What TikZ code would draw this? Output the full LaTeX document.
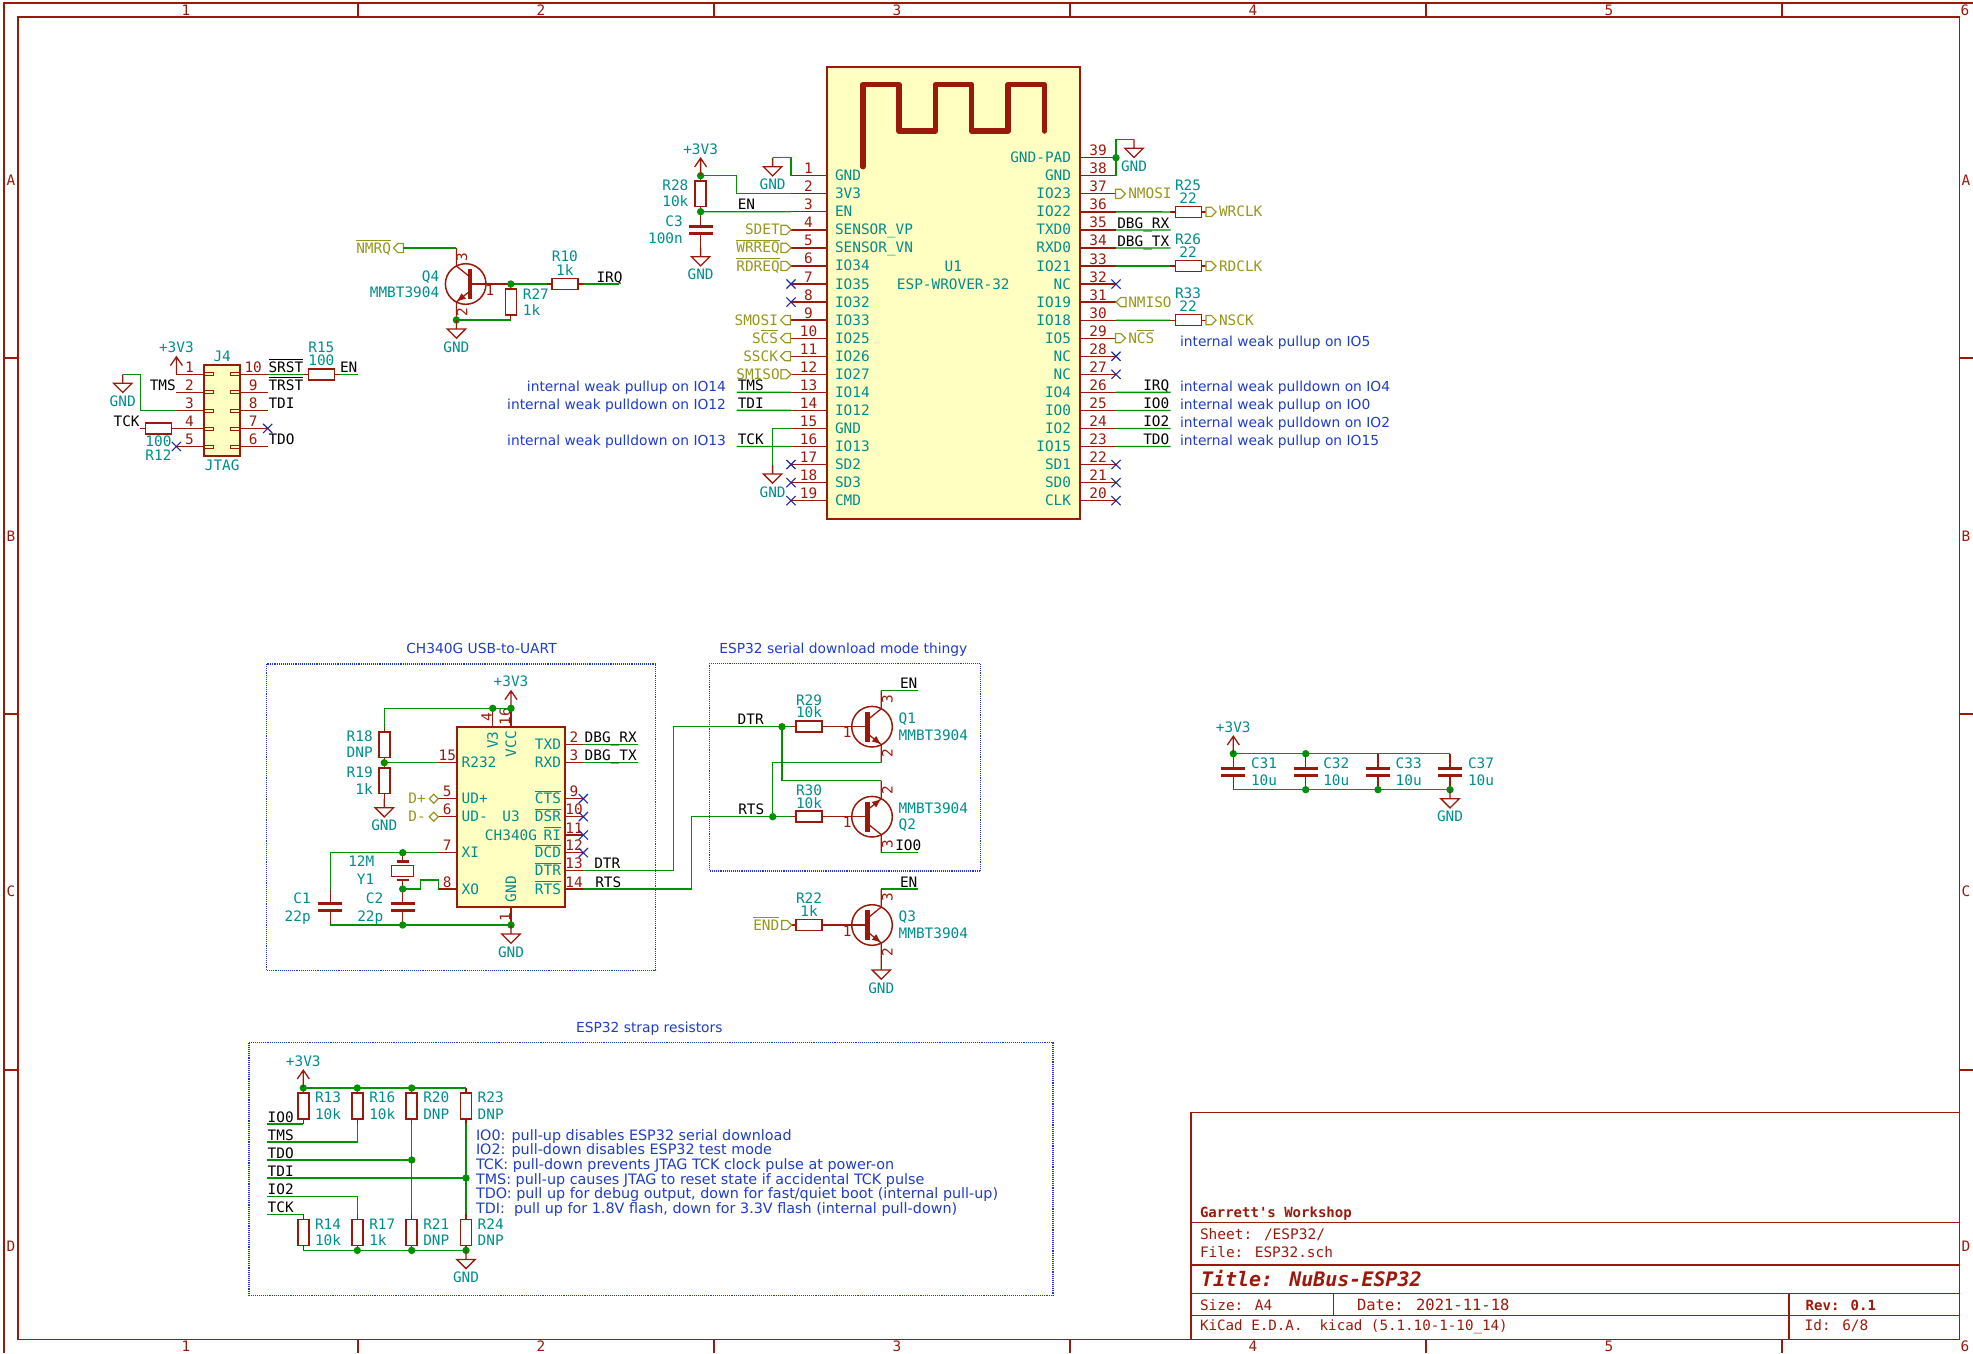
\documentclass[tikz,border=0pt]{standalone}
\usepackage{fontspec}
\setmainfont{DejaVu Sans}
\newfontfamily\monof{DejaVu Sans Mono}
\newfontfamily\notef{DejaVu Sans}
\newcommand\fonta{\monof\fontsize{14.4}{16}\selectfont}
\newcommand\fonts{\monof\fontsize{14.5}{16}\selectfont}
\newcommand\fontn{\notef\fontsize{13.8}{16}\selectfont}
\newcommand\fontm{\notef\fontsize{14.35}{16}\selectfont}
\definecolor{wirec}{RGB}{0,145,0}
\definecolor{pinc}{RGB}{155,25,10}
\definecolor{refc}{RGB}{0,140,140}
\definecolor{globc}{RGB}{150,150,30}
\definecolor{notec}{RGB}{30,60,200}
\definecolor{ncc}{RGB}{30,40,170}
\definecolor{bodyc}{RGB}{255,255,194}
\newcounter{tc}
\tikzset{
 txt/.style={inner sep=0pt,outer sep=0pt,font=\fonta},
 refl/.style={txt,text=refc},
 pinnum/.style={txt,text=pinc},
 netl/.style={txt,text=black},
 globl/.style={txt,text=globc},
 notel/.style={txt,font=\fontn,text=notec},
 notem/.style={txt,font=\fontm,text=notec},
 framet/.style={txt,text=pinc},
 wirel/.style={draw=wirec,line width=1.3pt,line join=miter},
 pinl/.style={draw=pinc,line width=1.3pt},
 bodyl/.style={draw=pinc,line width=1.9pt,fill=bodyc},
 partl/.style={draw=pinc,line width=1.5pt},
 platel/.style={draw=pinc,line width=3pt},
 nclin/.style={draw=ncc,line width=1.1pt},
 globs/.style={draw=globc,line width=1.2pt},
 boxn/.style={draw=notec,line width=1.1pt,densely dotted},
 framel/.style={draw=pinc,line width=1.1pt},
}
\newcommand{\lbl}[5]{\stepcounter{tc}\node[#1,anchor=#2,yshift=-5pt,name=t\number\value{tc}] at (#3,#4) {#5};}
\newcommand{\rotl}[4]{\stepcounter{tc}\node[#1,rotate=90,name=t\number\value{tc}] at (#2,#3) {#4};}
\newcommand{\ov}[1]{\leavevmode\setbox0\hbox{#1}\rlap{\raisebox{12pt}{\rule{\wd0}{0.9pt}}}\box0 }
\newcommand{\jd}[1]{\fill[wirec] (#1) circle (3.7pt);}
\newcommand{\ncx}[1]{\begin{scope}[shift={(#1)}]\draw[nclin] (-4.6,-4.6)--(4.6,4.6) (-4.6,4.6)--(4.6,-4.6);\end{scope}}
\newcommand{\ResH}[3]{\begin{scope}[shift={(#2,#3)}]\coordinate (#1a) at (-18,0);\coordinate (#1b) at (18,0);
 \draw[pinl] (#1a)--(-12.9,0) (12.9,0)--(#1b);\draw[partl] (-12.9,-5.5) rectangle (12.9,5.5);\end{scope}}
\newcommand{\ResV}[3]{\begin{scope}[shift={(#2,#3)}]\coordinate (#1a) at (0,-18);\coordinate (#1b) at (0,18);
 \draw[pinl] (#1a)--(0,-12.9) (0,12.9)--(#1b);\draw[partl] (-5.5,-12.9) rectangle (5.5,12.9);\end{scope}}
\newcommand{\CapV}[3]{\begin{scope}[shift={(#2,#3)}]\coordinate (#1a) at (0,-18);\coordinate (#1b) at (0,18);
 \draw[pinl] (#1a)--(0,-3.4) (0,3.4)--(#1b);\draw[platel] (-12,-3.4)--(12,-3.4) (-12,3.4)--(12,3.4);\end{scope}}
\newcommand{\npn}[5]{\begin{scope}[shift={(#2,#3)},xscale=#4,yscale=#5]
 \coordinate (#1b) at (-36,0);\coordinate (#1c) at (9.3,-36);\coordinate (#1e) at (9.3,36);
 \draw[partl] (0,0) circle (20.3pt);
 \draw[pinl] (#1b)--(-4.3,0);
 \draw[pinl] (#1c)--(9.3,-18)--(-4.3,-7);
 \draw[pinl] (-4.3,7)--(9.3,18)--(#1e);
 \draw[draw=pinc,line width=4.5pt] (-4.3,-15)--(-4.3,15);
 \fill[pinc] (8.3,17)--(4.2,9.3)--(-0.2,14.7)--cycle;
 \end{scope}}
\newcommand{\gndp}[3]{\begin{scope}[shift={(#2,#3)}]\coordinate (#1) at (0,0);
 \draw[pinl,line join=miter] (0,0)--(0,9) (-9.2,9)--(9.2,9)--(0,18.2)--cycle;
 \lbl{refl}{base}{0}{27}{GND}\end{scope}}
\newcommand{\pwrp}[3]{\begin{scope}[shift={(#2,#3)}]\coordinate (#1) at (0,0);
 \draw[pinl] (0,0)--(0,-17.5) (-6,-8.7)--(0,-17.5)--(6,-8.7);
 \lbl{refl}{base}{0}{-26.6}{+3V3}\end{scope}}
\newcommand{\globlab}[3]{\begin{scope}[shift={(#1,#2)},xscale=#3]\draw[globs] (-10,-4.6)--(-4.6,-4.6)--(0,0)--(-4.6,4.6)--(-10,4.6)--cycle;\end{scope}}
\newcommand{\diamlab}[2]{\begin{scope}[shift={(#1,#2)}]\draw[globs] (-4.5,0)--(0,-4.5)--(4.5,0)--(0,4.5)--cycle;\end{scope}}
\begin{document}
\begin{tikzpicture}[x=1pt,y=-1pt]
\useasboundingbox (0,0) rectangle (1973,1353);
% ---------- sheet frame
\draw[framel] (18,17) rectangle (1959.7,1339.7);
\draw[framel] (4,1353)--(4,3)--(1973,3);
\foreach \k in {358,714,1070,1426,1782}{\draw[framel] (\k,3)--(\k,17) (\k,1339.7)--(\k,1353);}
\foreach \k in {358,714,1070}{\draw[framel] (4,\k)--(18,\k) (1959.7,\k)--(1973,\k);}
\foreach \x/\c in {186/1,541/2,897/3,1253/4,1609/5,1965/6}{\lbl{framet}{base}{\x}{10}{\c}\lbl{framet}{base}{\x}{1346}{\c}}
\foreach \y/\c in {180/A,536/B,891/C,1246/D}{\lbl{framet}{base}{11}{\y}{\c}\lbl{framet}{base}{1966}{\y}{\c}}
% ---------- title block
\draw[framel] (1191,1112.3) rectangle (1959.7,1339.7);
\draw[framel] (1191,1222.3)--(1959.7,1222.3) (1191,1265)--(1959.7,1265) (1191,1293.3)--(1959.7,1293.3) (1191,1315.3)--(1959.7,1315.3);
\draw[framel] (1333.8,1293.3)--(1333.8,1315.3) (1789,1293.3)--(1789,1339.7);
\lbl{framet,font=\monof\bfseries\fontsize{14}{16}\selectfont}{base west}{1200}{1212.3}{Garrett's Workshop}
\lbl{framet,font=\fonts}{base west}{1200}{1234}{Sheet: /ESP32/}
\lbl{framet}{base west}{1200}{1252.7}{File: ESP32.sch}
\lbl{framet,font=\monof\bfseries\itshape\fontsize{20}{22}\selectfont}{base west}{1201}{1281}{Title: NuBus-ESP32}
\lbl{framet}{base west}{1200}{1305.7}{Size: A4}
\lbl{framet,font=\monof\fontsize{15.5}{16}\selectfont}{base west}{1357}{1305.7}{Date: 2021-11-18}
\lbl{framet,font=\monof\bfseries\fontsize{14}{16}\selectfont}{base west}{1805.7}{1305.7}{Rev: 0.1}
\lbl{framet,font=\monof\fontsize{14.2}{16}\selectfont}{base west}{1200}{1325}{KiCad E.D.A.\ \ kicad (5.1.10-1-10\_14)}
\lbl{framet}{base west}{1804.7}{1325}{Id: 6/8}
% ---------- note boxes
\draw[boxn] (266.7,664) rectangle (655.7,970.3);
\draw[boxn] (709.7,663.3) rectangle (980.7,871);
\draw[boxn] (249,1042.7) rectangle (1053,1295.3);
\lbl{notel}{base}{481.5}{648}{CH340G USB-to-UART}
\lbl{notel}{base}{843.3}{648}{ESP32 serial download mode thingy}
\lbl{notel}{base}{649.3}{1027}{ESP32 strap resistors}
% ---------- U1
\fill[bodyc] (827,66.7) rectangle (1080,519);
\draw[bodyl] (827,66.7) rectangle (1080,519);
\draw[draw=pinc,line width=5.5pt,line cap=round,line join=round] (862.8,166.7)--(862.8,84.7)--(899.1,84.7)--(899.1,131)--(935.5,131)--(935.5,84.7)--(971.5,84.7)--(971.5,131)--(1007.9,131)--(1007.9,84.7)--(1044.3,84.7)--(1044.3,131);
\lbl{refl}{base}{953.3}{266.3}{U1}
\lbl{refl}{base}{953.3}{284.3}{ESP-WROVER-32}
\foreach \n/\nm in {1/GND,2/3V3,3/EN,4/SENSOR\_VP,5/SENSOR\_VN,6/IO34,7/IO35,8/IO32,9/IO33,10/IO25,11/IO26,12/IO27,13/IO14,14/IO12,15/GND,16/IO13,17/SD2,18/SD3,19/CMD}{
 \pgfmathsetmacro\yy{175.7+(\n-1)*18.05}
 \coordinate (Lp\n) at (791,\yy);
 \draw[pinl] (Lp\n)--(827,\yy);
 \lbl{refl}{base west}{835}{\yy}{\nm}
 \lbl{pinnum}{base}{808.5}{\yy-7}{\n}
}
\foreach \n/\nm in {39/GND-PAD,38/GND,37/IO23,36/IO22,35/TXD0,34/RXD0,33/IO21,32/NC,31/IO19,30/IO18,29/IO5,28/NC,27/NC,26/IO4,25/IO0,24/IO2,23/IO15,22/SD1,21/SD0,20/CLK}{
 \pgfmathsetmacro\yy{157.7+(39-\n)*18.05}
 \coordinate (Rp\n) at (1116,\yy);
 \draw[pinl] (1080,\yy)--(Rp\n);
 \lbl{refl}{base east}{1071}{\yy}{\nm}
 \lbl{pinnum}{base}{1098}{\yy-7}{\n}
}
% U1 left side
\gndp{GU1}{772.6}{157.7}
\draw[wirel] (Lp1) |- (GU1);
\ResV{R28}{700.6}{193.7}
\CapV{C3}{700.6}{229.7}
\coordinate (k2) at (736.6,175.7);
\draw[wirel] (Lp2) -| (k2) -- (R28a);
\draw[wirel] (Lp3) -- (R28b);
\jd{R28a}\jd{R28b}
\pwrp{P28}{700.6}{175.7}
\gndp{GC3}{700.6}{247.7}
\lbl{refl}{base east}{688.4}{185}{R28}
\lbl{refl}{base east}{688.4}{201.7}{10k}
\lbl{refl}{base east}{682.8}{221.7}{C3}
\lbl{refl}{base east}{682.8}{238.3}{100n}
\lbl{netl}{base west}{737.8}{204.7}{EN}
\globlab{791}{229.85}{1}\lbl{globl}{base east}{779.7}{229.85}{SDET}
\globlab{791}{247.9}{1}\lbl{globl}{base east}{779.7}{247.9}{\ov{WRREQ}}
\globlab{791}{265.95}{1}\lbl{globl}{base east}{779.7}{266}{\ov{RDREQ}}
\globlab{780.5}{320.1}{-1}\lbl{globl}{base east}{778}{320.1}{SMOSI}
\globlab{780.5}{338.15}{-1}\lbl{globl}{base east}{778}{338.15}{S\ov{CS}}
\globlab{780.5}{356.2}{-1}\lbl{globl}{base east}{778}{356.2}{SSCK}
\globlab{791}{374.25}{1}\lbl{globl}{base east}{779.7}{374.25}{SMISO}
\foreach \n in {7,8,17,18,19}{\ncx{Lp\n}}
\coordinate (tmse) at (736.6,392.3);\coordinate (tdie) at (736.6,410.35);\coordinate (tcke) at (736.6,446.45);
\draw[wirel] (Lp13)--(tmse);\draw[wirel] (Lp14)--(tdie);\draw[wirel] (Lp16)--(tcke);
\lbl{netl}{base west}{737.8}{385.3}{TMS}
\lbl{netl}{base west}{737.8}{403.3}{TDI}
\lbl{netl}{base west}{737.8}{439.4}{TCK}
\gndp{GU15}{772.6}{465}
\draw[wirel] (Lp15) -| (GU15);
\lbl{notel}{base east}{726}{386.3}{internal weak pullup on IO14}
\lbl{notel}{base east}{726}{404.3}{internal weak pulldown on IO12}
\lbl{notel}{base east}{726}{440.3}{internal weak pulldown on IO13}
% U1 right side
\gndp{GR}{1134}{139.3}
\draw[wirel] (Rp38) |- (GR);
\jd{Rp39}
\globlab{1125.4}{193.85}{1}\lbl{globl}{base west}{1128.3}{193.85}{NMOSI}
\ResH{R25}{1188.4}{211.9}
\draw[wirel] (Rp36)--(R25a);
\globlab{1216}{211.9}{1}\lbl{globl}{base west}{1219}{211.9}{WRCLK}
\lbl{refl}{base}{1188}{185}{R25}\lbl{refl}{base}{1188}{198.3}{22}
\coordinate (rxe) at (1170.5,229.9);\coordinate (txe) at (1170.5,247.95);
\draw[wirel] (Rp35)--(rxe);\draw[wirel] (Rp34)--(txe);
\lbl{netl}{base east}{1169.3}{223}{DBG\_RX}
\lbl{netl}{base east}{1169.3}{241}{DBG\_TX}
\ResH{R26}{1188.4}{266}
\draw[wirel] (Rp33)--(R26a);
\globlab{1216}{266}{1}\lbl{globl}{base west}{1219}{266}{RDCLK}
\lbl{refl}{base}{1188}{239}{R26}\lbl{refl}{base}{1188}{252.3}{22}
\foreach \n in {32,28,27,22,21,20}{\ncx{Rp\n}}
\globlab{1116}{302.1}{-1}\lbl{globl}{base west}{1128.3}{302.1}{NMISO}
\ResH{R33}{1188.4}{320.15}
\draw[wirel] (Rp30)--(R33a);
\globlab{1216}{320.15}{1}\lbl{globl}{base west}{1219}{320.15}{NSCK}
\lbl{refl}{base}{1188}{293.3}{R33}\lbl{refl}{base}{1188}{306.7}{22}
\globlab{1125.4}{338.2}{1}\lbl{globl}{base west}{1128.3}{338.2}{N\ov{CS}}
\coordinate (e26) at (1170.5,392.35);\coordinate (e25) at (1170.5,410.4);\coordinate (e24) at (1170.5,428.45);\coordinate (e23) at (1170.5,446.5);
\draw[wirel] (Rp26)--(e26);\draw[wirel] (Rp25)--(e25);\draw[wirel] (Rp24)--(e24);\draw[wirel] (Rp23)--(e23);
\lbl{netl}{base east}{1169.3}{385.4}{IRQ}
\lbl{netl}{base east}{1169.3}{403.4}{IO0}
\lbl{netl}{base east}{1169.3}{421.4}{IO2}
\lbl{netl}{base east}{1169.3}{439.5}{TDO}
\lbl{notel}{base west}{1180}{341}{internal weak pullup on IO5}
\lbl{notel}{base west}{1180}{386.7}{internal weak pulldown on IO4}
\lbl{notel}{base west}{1180}{404.3}{internal weak pullup on IO0}
\lbl{notel}{base west}{1180}{422.3}{internal weak pulldown on IO2}
\lbl{notel}{base west}{1180}{440.7}{internal weak pullup on IO15}
% ---------- Q4
\npn{Q4}{465.7}{284}{-1}{1}
\coordinate (nmrq) at (403,248);
\globlab{393.4}{248}{-1}
\draw[wirel] (nmrq)--(Q4c);
\lbl{globl}{base east}{391}{248}{\ov{NMRQ}}
\ResV{R27}{510.8}{302}
\ResH{R10}{565}{284}
\draw[pinl] (Q4b)--(R27a);
\draw[wirel] (R27a)--(R10a);
\draw[wirel] (Q4e)--(R27b);
\jd{R27a}\jd{Q4e}
\gndp{GQ4}{456.4}{320}
\coordinate (irqe) at (619.3,284);
\draw[wirel] (R10b)--(irqe);
\lbl{netl}{base west}{596.5}{277}{IRQ}
\lbl{refl}{base}{564.9}{256.7}{R10}\lbl{refl}{base}{564.9}{270.7}{1k}
\lbl{refl}{base west}{522.9}{294}{R27}\lbl{refl}{base west}{522.9}{310.7}{1k}
\lbl{refl}{base east}{439.2}{276}{Q4}\lbl{refl}{base east}{439.2}{292}{MMBT3904}
\lbl{pinnum}{base}{490}{290.7}{1}
\rotl{pinnum}{462}{256.7}{3}\rotl{pinnum}{462}{311.7}{2}
% ---------- J4
\fill[bodyc] (204,365.3) rectangle (239.8,456);
\draw[bodyl] (204,365.3) rectangle (239.8,456);
\foreach \n/\k in {1/0,2/1,3/2,4/3,5/4}{
 \pgfmathsetmacro\yy{374.3+\k*18.05}
 \coordinate (Jp\n) at (176.4,\yy);
 \draw[pinl] (Jp\n)--(204,\yy);
 \draw[draw=pinc,line width=.8pt] (204,\yy-1.5) rectangle (213.6,\yy+1.5);
 \lbl{pinnum}{base}{189.5}{\yy-7}{\n}
}
\foreach \n/\k in {10/0,9/1,8/2,7/3,6/4}{
 \pgfmathsetmacro\yy{374.3+\k*18.05}
 \coordinate (Jp\n) at (267.7,\yy);
 \draw[pinl] (239.8,\yy)--(Jp\n);
 \draw[draw=pinc,line width=.8pt] (230,\yy-1.5) rectangle (239.8,\yy+1.5);
 \lbl{pinnum}{base}{253.2}{\yy-7}{\n}
}
\lbl{refl}{base}{222.2}{356}{J4}
\lbl{refl}{base}{222.2}{465}{JTAG}
\pwrp{PJ}{176.4}{374.3}
\gndp{GJ}{122.7}{374.3}
\coordinate (jb) at (140.6,374.3);
\draw[wirel] (Jp3) -| (jb) -- (GJ);
\ResH{R15}{321.5}{374.3}
\draw[wirel] (Jp10)--(R15a);
\coordinate (ene) at (357.6,374.3);
\draw[wirel] (R15b)--(ene);
\ResH{R12}{158.4}{428.45}
\ncx{Jp5}\ncx{Jp7}
\lbl{netl}{base east}{175.8}{385.3}{TMS}
\lbl{netl}{base east}{139.6}{421.4}{TCK}
\lbl{netl}{base west}{268.5}{367.3}{\ov{SRST}}
\lbl{netl}{base west}{268.5}{385.3}{\ov{TRST}}
\lbl{netl}{base west}{268.5}{403.4}{TDI}
\lbl{netl}{base west}{268.5}{439.5}{TDO}
\lbl{netl}{base west}{340}{367.3}{EN}
\lbl{refl}{base}{321.4}{347.3}{R15}\lbl{refl}{base}{321.4}{360.7}{100}
\lbl{refl}{base}{158.5}{441.7}{100}\lbl{refl}{base}{158.5}{455}{R12}
% ---------- U3
\fill[bodyc] (456.7,726.7) rectangle (565.3,907.3);
\draw[bodyl] (456.7,726.7) rectangle (565.3,907.3);
\foreach \n/\y/\nm in {15/762.7/R232,5/798.7/UD+,6/816.7/UD-,7/852.7/XI,8/889/XO}{
 \coordinate (Up\n) at (438.3,\y);
 \draw[pinl] (Up\n)--(456.7,\y);
 \lbl{refl}{base west}{461.7}{\y}{\nm}
 \lbl{pinnum}{base}{447.3}{\y-7}{\n}
}
\foreach \n/\y/\nm in {2/744.7/TXD,3/762.7/RXD,9/798.7/\ov{CTS},10/816.7/\ov{DSR},11/835/\ov{RI},12/852.7/\ov{DCD},13/870.7/\ov{DTR},14/889/\ov{RTS}}{
 \coordinate (Up\n) at (583.3,\y);
 \draw[pinl] (565.3,\y)--(Up\n);
 \lbl{refl}{base east}{561}{\y}{\nm}
 \lbl{pinnum}{base}{574}{\y-7}{\n}
}
\coordinate (Up4) at (492.7,708.3);\coordinate (Up16) at (511,708.3);\coordinate (Up1) at (511,925);
\draw[pinl] (Up4)--(492.7,726.7);\draw[pinl] (Up16)--(511,726.7);\draw[pinl] (Up1)--(511,907.3);
\rotl{refl}{492.7}{740}{V3}\rotl{refl}{511}{744}{VCC}\rotl{refl}{511}{889.3}{GND}
\rotl{pinnum}{486.7}{716.7}{4}\rotl{pinnum}{505}{716.7}{16}\rotl{pinnum}{505}{916.7}{1}
\lbl{refl}{base}{511}{816.7}{U3}\lbl{refl}{base}{511}{835}{CH340G}
\pwrp{PU3}{511}{708.3}
\ResV{R18}{384.3}{744.7}
\ResV{R19}{384.3}{780.7}
\draw[wirel] (Up16)--(Up4) -| (R18a);
\draw[wirel] (Up15)--(R18b);
\jd{Up4}\jd{Up16}\jd{R18b}
\gndp{GR19}{384.3}{798.7}
\lbl{refl}{base east}{372.7}{736.7}{R18}\lbl{refl}{base east}{372.7}{752.3}{DNP}
\lbl{refl}{base east}{372.7}{772.7}{R19}\lbl{refl}{base east}{372.7}{789}{1k}
\diamlab{433.8}{798.7}\diamlab{433.8}{816.7}
\lbl{globl}{base east}{425.7}{798.7}{D+}\lbl{globl}{base east}{425.7}{816.7}{D-}
\CapV{C1}{330.3}{907}
\CapV{C2}{402.7}{907}
\coordinate (Y1a) at (402.7,852.7);\coordinate (Y1b) at (402.7,889);
\draw[pinl] (Y1a)--(402.7,861.7) (402.7,880)--(Y1b);
\draw[draw=pinc,line width=2.6pt] (396.7,861.7)--(408.7,861.7) (396.7,880)--(408.7,880);
\draw[partl] (391.7,865.5) rectangle (413.7,876.5);
\draw[wirel] (Up7) -| (C1a);
\coordinate (k8a) at (438.3,880);\coordinate (k8b) at (420.7,880);
\draw[wirel] (Up8)--(k8a)--(k8b) |- (Y1b);
\draw[wirel] (C1b)--(Up1);
\jd{Y1a}\jd{Y1b}\jd{C2b}\jd{Up1}
\gndp{GU3}{511}{925}
\lbl{refl}{base east}{374.3}{861.7}{12M}\lbl{refl}{base east}{374.3}{879.3}{Y1}
\lbl{refl}{base east}{310.7}{898.3}{C1}\lbl{refl}{base east}{310.7}{916.7}{22p}
\lbl{refl}{base east}{383.3}{898.3}{C2}\lbl{refl}{base east}{383.3}{916.7}{22p}
\foreach \n in {9,10,11,12}{\ncx{Up\n}}
\coordinate (rxu) at (637.7,744.7);\coordinate (txu) at (637.7,762.7);
\draw[wirel] (Up2)--(rxu);\draw[wirel] (Up3)--(txu);
\lbl{netl}{base east}{636.7}{737.7}{DBG\_RX}
\lbl{netl}{base east}{636.7}{755.7}{DBG\_TX}
\lbl{netl}{base west}{594.3}{863.7}{DTR}
\lbl{netl}{base west}{595.3}{882}{RTS}
% ---------- Q1 Q2 Q3
\npn{Q1}{872}{726.7}{1}{1}
\npn{Q2}{872}{816.7}{1}{-1}
\npn{Q3}{872}{925}{1}{1}
\ResH{R29}{809}{726.7}
\ResH{R30}{809}{816.7}
\ResH{R22}{809}{925}
\draw[pinl] (R29b)--(Q1b);\draw[pinl] (R30b)--(Q2b);\draw[pinl] (R22b)--(Q3b);
\coordinate (k13) at (673.3,726.7);\coordinate (k14) at (691.7,816.7);
\coordinate (j1) at (782,726.7);\coordinate (j2) at (772.7,816.7);
\draw[wirel] (Up13) -| (k13) -- (R29a);
\draw[wirel] (Up14) -| (k14) -- (R30a);
\draw[wirel] (j1) |- (Q2e);
\draw[wirel] (Q1e) -| (j2);
\jd{j1}\jd{j2}
\coordinate (en1) at (917.7,690.7);\coordinate (io0q) at (917.7,852.7);\coordinate (en3) at (917.7,889);
\draw[wirel] (Q1c)--(en1);\draw[wirel] (Q2c)--(io0q);\draw[wirel] (Q3c)--(en3);
\lbl{netl}{base west}{737.7}{719.7}{DTR}
\lbl{netl}{base west}{738.3}{809.7}{RTS}
\lbl{netl}{base west}{900}{683.7}{EN}
\lbl{netl}{base west}{895.3}{845.7}{IO0}
\lbl{netl}{base west}{900}{882}{EN}
\lbl{refl}{base}{809}{700}{R29}\lbl{refl}{base}{809}{712.7}{10k}
\lbl{refl}{base}{809}{790.7}{R30}\lbl{refl}{base}{809}{803.3}{10k}
\lbl{refl}{base}{809}{898.3}{R22}\lbl{refl}{base}{809}{911.7}{1k}
\lbl{refl}{base west}{898.7}{718.3}{Q1}\lbl{refl}{base west}{898.7}{735}{MMBT3904}
\lbl{refl}{base west}{898.7}{808.3}{MMBT3904}\lbl{refl}{base west}{898.7}{824.3}{Q2}
\lbl{refl}{base west}{898.7}{916.7}{Q3}\lbl{refl}{base west}{898.7}{933.3}{MMBT3904}
\lbl{pinnum}{base}{847.3}{732.7}{1}\lbl{pinnum}{base}{847.3}{822.7}{1}\lbl{pinnum}{base}{847.3}{931}{1}
\rotl{pinnum}{887.3}{699}{3}\rotl{pinnum}{887.3}{753.3}{2}
\rotl{pinnum}{887.3}{790}{2}\rotl{pinnum}{887.3}{844}{3}
\rotl{pinnum}{887.3}{897.5}{3}\rotl{pinnum}{887.3}{952}{2}
\globlab{791.7}{925}{1}
\lbl{globl}{base east}{779.3}{925}{\ov{END}}
\gndp{GQ3}{881.3}{961}
% ---------- strap resistors
\foreach \nm/\x in {R13/303.3,R16/357.3,R20/411.7,R23/466}{\ResV{\nm}{\x}{1106}}
\foreach \nm/\x in {R14/303.3,R17/357.3,R21/411.7,R24/466}{\ResV{\nm}{\x}{1232.4}}
\draw[wirel] (R13a)--(R23a);
\draw[wirel] (R14b)--(R24b);
\draw[wirel] (R20b)--(R21a);
\draw[wirel] (R23b)--(R24a);
\coordinate (s1) at (266.7,1124);\coordinate (s2) at (266.7,1142);\coordinate (s3) at (266.7,1160);
\coordinate (s4) at (266.7,1178);\coordinate (s5) at (266.7,1196.3);\coordinate (s6) at (266.7,1214.4);
\coordinate (jt) at (411.7,1160);\coordinate (jdi) at (466,1178);
\draw[wirel] (s1)--(R13b);
\draw[wirel] (s2) -| (R16b);
\draw[wirel] (s3)--(jt);
\draw[wirel] (s4)--(jdi);
\draw[wirel] (s5) -| (R17a);
\draw[wirel] (s6)--(R14a);
\jd{R13a}\jd{R16a}\jd{R20a}\jd{jt}\jd{jdi}\jd{R17b}\jd{R21b}\jd{R24b}
\pwrp{PS}{303.3}{1087.7}
\gndp{GS}{466}{1250.4}
\foreach \y/\nm in {1117/IO0,1135/TMS,1153/TDO,1171/TDI,1189.3/IO2,1207.4/TCK}{\lbl{netl}{base west}{267.7}{\y}{\nm}}
\foreach \x/\a/\b in {315/R13/10k,369.3/R16/10k,423.3/R20/DNP,477.7/R23/DNP}{\lbl{refl}{base west}{\x}{1097.7}{\a}\lbl{refl}{base west}{\x}{1114.3}{\b}}
\foreach \x/\a/\b in {315/R14/10k,369.3/R17/1k,423.3/R21/DNP,477.7/R24/DNP}{\lbl{refl}{base west}{\x}{1224}{\a}\lbl{refl}{base west}{\x}{1240}{\b}}
\lbl{notem}{base west}{476}{1135}{IO0: pull-up disables ESP32 serial download}
\lbl{notem}{base west}{476}{1149.7}{IO2: pull-down disables ESP32 test mode}
\lbl{notem}{base west}{476}{1164.3}{TCK: pull-down prevents JTAG TCK clock pulse at power-on}
\lbl{notem}{base west}{476}{1179}{TMS: pull-up causes JTAG to reset state if accidental TCK pulse}
\lbl{notem}{base west}{476}{1193.7}{TDO: pull up for debug output, down for fast/quiet boot (internal pull-up)}
\lbl{notem}{base west}{476}{1208.3}{TDI:\ \ pull up for 1.8V flash, down for 3.3V flash (internal pull-down)}
% ---------- decoupling
\foreach \nm/\x/\lx in {C31/1233.3/1251,C32/1305.7/1323.3,C33/1378/1395.7,C37/1450/1468}{
 \CapV{\nm}{\x}{771.7}
 \lbl{refl}{base west}{\lx}{763.3}{\nm}\lbl{refl}{base west}{\lx}{780}{10u}
}
\draw[wirel] (C31a)--(C37a);
\draw[wirel] (C31b)--(C37b);
\jd{C31a}\jd{C32a}\jd{C32b}\jd{C33b}\jd{C37b}
\pwrp{PD}{1233.3}{753.7}
\gndp{GD}{1450}{789.7}
\end{tikzpicture}
\end{document}
